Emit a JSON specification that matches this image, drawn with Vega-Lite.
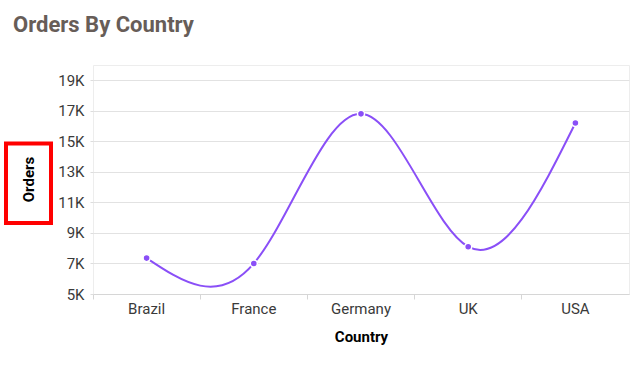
{
  "$schema": "https://vega.github.io/schema/vega-lite/v6.json",
  "padding": {"left": 4, "top": 13, "right": 0, "bottom": 0},
  "background": "white",
  "title": {
    "text": "Orders By Country",
    "anchor": "start",
    "font": "Roboto",
    "fontSize": 22,
    "fontWeight": "bold",
    "color": "#675d58",
    "dx": 9,
    "offset": 28
  },
  "datasets": {
    "orders": [
      {"Country": "Brazil", "Orders": 7350},
      {"Country": "France", "Orders": 7000},
      {"Country": "Germany", "Orders": 16800},
      {"Country": "UK", "Orders": 8100},
      {"Country": "USA", "Orders": 16200}
    ],
    "label": [{"Title": "Orders"}]
  },
  "spacing": 4,
  "hconcat": [
    {
      "width": 45,
      "height": 229,
      "view": {"stroke": null},
      "data": {"name": "label"},
      "layer": [
        {
          "mark": {"type": "rect", "fill": null, "stroke": "#ff0000", "strokeWidth": 4},
          "encoding": {
            "y": {"datum": 14850, "type": "quantitative", "scale": {"domain": [5000, 20000], "nice": false, "zero": false}, "axis": null},
            "y2": {"datum": 9650}
          }
        },
        {
          "mark": {"type": "text", "angle": 270, "font": "Roboto", "fontSize": 15, "fontWeight": "bold", "color": "#000000", "align": "center", "baseline": "middle"},
          "encoding": {
            "y": {"datum": 12500, "type": "quantitative"},
            "text": {"field": "Title"}
          }
        }
      ]
    },
    {
      "width": 536,
      "height": 229,
      "view": {"stroke": "#ededed"},
      "data": {"name": "orders"},
      "encoding": {
        "x": {
          "field": "Country",
          "type": "nominal",
          "bandPosition": 0.5,
          "scale": {"type": "band", "paddingInner": 0, "paddingOuter": 0},
          "axis": {
            "title": "Country",
            "bandPosition": 0,
            "labelAngle": 0,
            "labelFont": "Roboto",
            "labelFontSize": 15,
            "labelColor": "#3a3a3a",
            "labelPadding": 2,
            "tickColor": "#d6d6d6",
            "tickSize": 5,
            "domainColor": "#d6d6d6",
            "grid": false,
            "titleFont": "Roboto",
            "titleFontSize": 15,
            "titleFontWeight": "bold",
            "titleColor": "#000000",
            "titlePadding": 13
          }
        },
        "y": {
          "field": "Orders",
          "type": "quantitative",
          "scale": {"domain": [5000, 20000], "nice": false, "zero": false},
          "axis": {
            "title": null,
            "values": [5000, 7000, 9000, 11000, 13000, 15000, 17000, 19000],
            "labelExpr": "datum.value / 1000 + 'K'",
            "labelFont": "Roboto",
            "labelFontSize": 15,
            "labelColor": "#3a3a3a",
            "labelPadding": 6,
            "tickSize": 3,
            "tickColor": "#dddddd",
            "domain": false,
            "gridColor": "#e2e2e2"
          }
        }
      },
      "layer": [
        {
          "mark": {"type": "line", "interpolate": "natural", "color": "#8a4ff7", "strokeWidth": 2}
        },
        {
          "mark": {"type": "point", "filled": true, "size": 50, "opacity": 1, "color": "#8a4ff7", "stroke": "#ffffff", "strokeWidth": 1.5}
        }
      ]
    }
  ]
}
